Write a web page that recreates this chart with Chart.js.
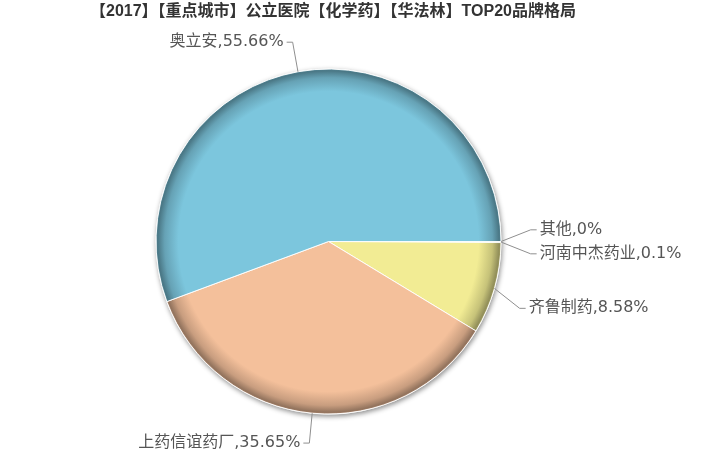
<!DOCTYPE html>
<html>
<head>
<meta charset="utf-8">
<script src="https://cdn.jsdelivr.net/npm/chart.js@4.4.1/dist/chart.umd.min.js"></script>
<style>
  html, body { margin: 0; padding: 0; background: #fff; }
  #wrap { width: 704px; height: 462px; }
</style>
</head>
<body>
<div id="wrap"><canvas id="brandPie" width="704" height="462"></canvas></div>
<script>
const chartTitle = "【2017】【重点城市】公立医院【化学药】【华法林】TOP20品牌格局";
const brands = ["奥立安", "上药信谊药厂", "齐鲁制药", "河南中杰药业", "其他"];
const shares = [55.66, 35.65, 8.58, 0.1, 0];
const sliceColors = ["#7cc6dd", "#f4c09b", "#f2ec94", "#9fd3a0", "#c9b3e0"];

// darken a hex colour by factor f
function shade(hex, f) {
    const n = parseInt(hex.slice(1), 16);
    const r = Math.round(((n >> 16) & 255) * f);
    const g = Math.round(((n >> 8) & 255) * f);
    const b = Math.round((n & 255) * f);
    return `rgb(${r},${g},${b})`;
}

// rim shading like the original bevel
function sliceFill(context) {
    const chart = context.chart;
    const area = chart.chartArea;
    const base = context.dataset.baseColors[context.dataIndex];
    if (!area) return base;
    const cx = (area.left + area.right) / 2;
    const cy = (area.top + area.bottom) / 2;
    const r = Math.min(area.width, area.height) / 2;
    const g = chart.ctx.createRadialGradient(cx, cy, 0, cx, cy, r);
    g.addColorStop(0, base);
    g.addColorStop(0.87, base);
    g.addColorStop(0.95, shade(base, 0.82));
    g.addColorStop(0.99, shade(base, 0.6));
    g.addColorStop(1, shade(base, 0.7));
    return g;
}

// spread labels on one side so they don't overlap
function spread(list, h) {
    list.sort((a, b) => a.y - b.y);
    let lastY = -Infinity;
    for (let i = 0; i < list.length; i++) {
        const d = list[i].y - lastY;
        if (d < 0) {
            for (let j = i; j < list.length; j++) list[j].y -= d;
            for (let j = 0; j < list.length; j++) list[j].y += d / 2;
        }
        lastY = list[i].y + h;
    }
}

const pieDecor = {
    id: 'pieDecor',
    beforeDatasetsDraw(chart) {
        const arc = chart.getDatasetMeta(0).data[0];
        if (!arc) return;
        const ctx = chart.ctx;
        ctx.save();
        ctx.shadowColor = 'rgba(0,0,0,0.45)';
        ctx.shadowBlur = 5;
        ctx.shadowOffsetX = 1;
        ctx.shadowOffsetY = 2;
        ctx.fillStyle = '#fff';
        ctx.beginPath();
        ctx.arc(arc.x, arc.y, arc.outerRadius + 0.5, 0, Math.PI * 2);
        ctx.fill();
        ctx.restore();
    },
    afterDatasetsDraw(chart) {
        const ctx = chart.ctx;
        const meta = chart.getDatasetMeta(0);
        const ds = chart.data.datasets[0];
        const len = 30, len2 = 6, gap = 3, rowH = 24;

        const items = meta.data.map((arc, i) => {
            const mid = (arc.startAngle + arc.endAngle) / 2;
            const dx = Math.cos(mid), dy = Math.sin(mid);
            const ex = arc.x + arc.outerRadius * dx;
            const ey = arc.y + arc.outerRadius * dy;
            return {
                text: `${chart.data.labels[i]},${ds.data[i]}%`,
                ex, ey, y: ey + dy * len, right: dx >= 0,
                cx: arc.x, cy: arc.y, rr: arc.outerRadius + len
            };
        });
        spread(items.filter(it => it.right), rowH);
        spread(items.filter(it => !it.right), rowH);

        ctx.save();
        ctx.font = '16px "DejaVu Sans", "Noto Sans CJK SC", sans-serif';
        ctx.textBaseline = 'middle';
        items.forEach(it => {
            const off = it.y - it.cy;
            const reach = Math.abs(off) < it.rr ? Math.sqrt(it.rr * it.rr - off * off) : 0;
            const sign = it.right ? 1 : -1;
            const cornerX = it.cx + sign * reach;
            const endX = cornerX + sign * len2;

            ctx.strokeStyle = '#8f8f8f';
            ctx.lineWidth = 1;
            ctx.beginPath();
            ctx.moveTo(it.ex, it.ey);
            ctx.lineTo(cornerX, it.y);
            ctx.lineTo(endX, it.y);
            ctx.stroke();

            ctx.fillStyle = '#555';
            ctx.textAlign = it.right ? 'left' : 'right';
            ctx.fillText(it.text, endX + sign * gap, it.y);
        });

        // title
        ctx.font = 'bold 16px "Liberation Sans", "Noto Sans CJK SC", sans-serif';
        ctx.fillStyle = '#333';
        ctx.textAlign = 'center';
        ctx.fillText(chartTitle, 333, 12);
        ctx.restore();
    }
};

// Chart.js draws clockwise, the original runs counter-clockwise from 3 o'clock
const drawLabels = brands.slice().reverse();
const drawShares = shares.slice().reverse();
const drawColors = sliceColors.slice().reverse();

new Chart(document.getElementById('brandPie'), {
    type: 'pie',
    data: {
        labels: drawLabels,
        datasets: [{
            data: drawShares,
            baseColors: drawColors,
            backgroundColor: sliceFill,
            borderColor: 'rgba(255,255,255,0.9)',
            borderWidth: 1,
            radius: 172.5
        }]
    },
    options: {
        responsive: false,
        animation: false,
        rotation: 90,
        layout: { padding: { left: 156, right: 203, top: 69, bottom: 48 } },
        plugins: {
            legend: { display: false },
            tooltip: { enabled: false },
            title: { display: false }
        }
    },
    plugins: [pieDecor]
});
</script>
</body>
</html>
